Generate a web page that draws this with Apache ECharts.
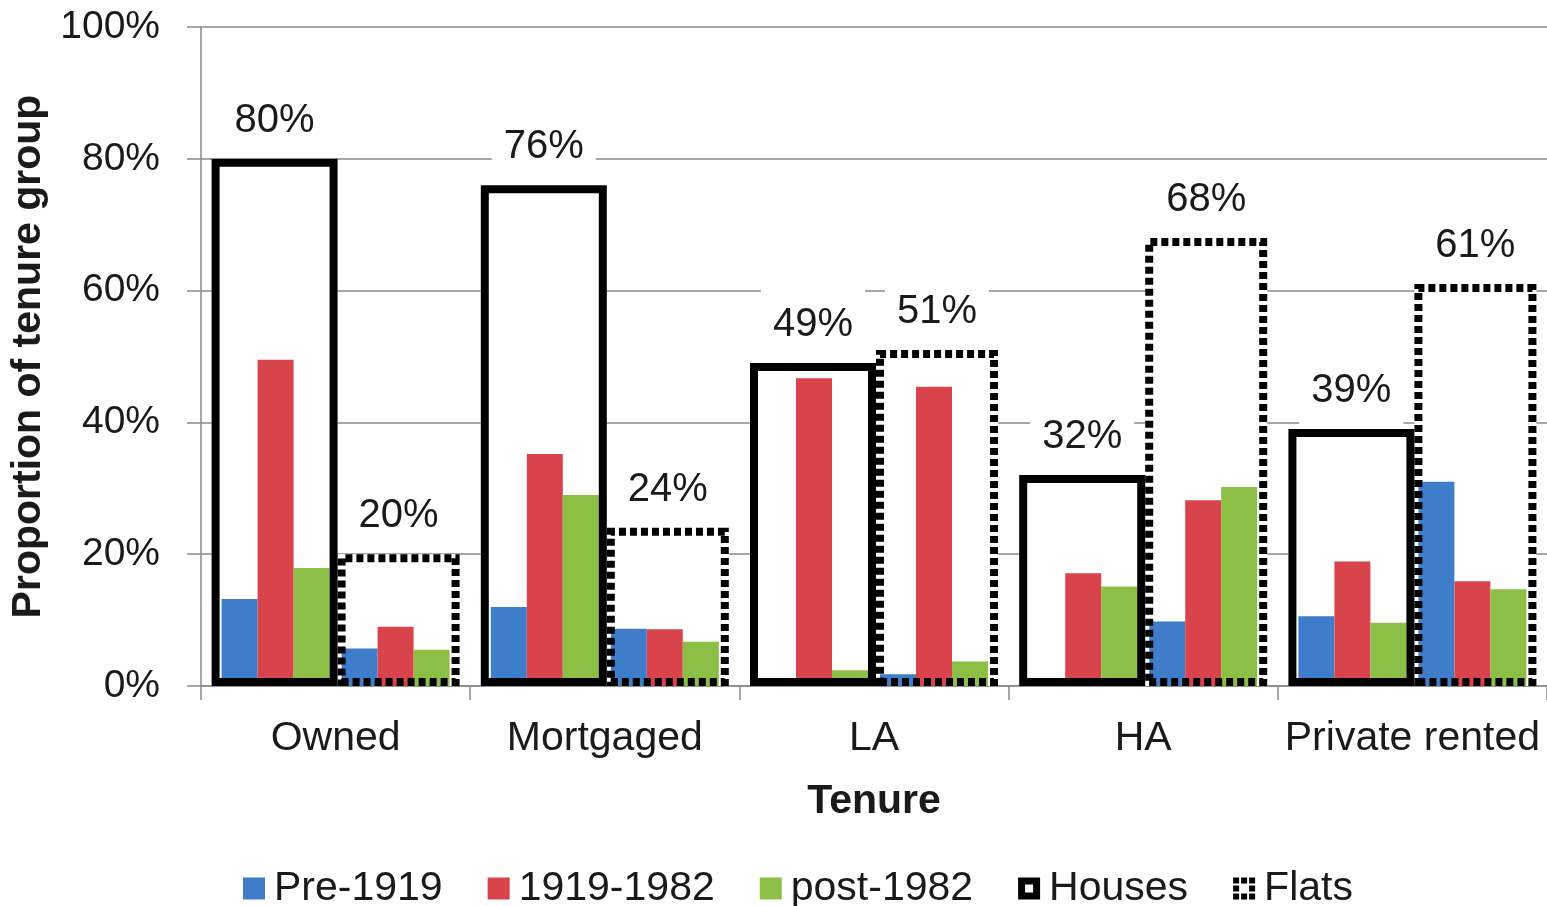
<!DOCTYPE html>
<html><head><meta charset="utf-8">
<script src="https://cdn.jsdelivr.net/npm/echarts@6/dist/echarts.min.js"></script>
<style>html,body{margin:0;padding:0;background:#fff}#c{width:1547px;height:906px}</style>
</head><body><div id="c"></div>
<script>
// ---- data ----
const categories = ['Owned', 'Mortgaged', 'LA', 'HA', 'Private rented'];
const housesTotal = [80, 76, 49, 32, 39];
const flatsTotal = [20, 24, 51, 68, 61];
const housesPre1919 = [13.2, 12.0, 0, 0, 10.6];
const houses1919to1982 = [49.5, 35.2, 46.7, 17.1, 18.9];
const housesPost1982 = [17.9, 29.0, 2.4, 15.1, 9.6];
const flatsPre1919 = [5.7, 8.7, 1.8, 9.8, 31.0];
const flats1919to1982 = [9.0, 8.6, 45.4, 28.2, 15.9];
const flatsPost1982 = [5.5, 6.7, 3.7, 30.2, 14.7];
const yTickValues = [0, 20, 40, 60, 80, 100];
const legendNames = ['Pre-1919', '1919-1982', 'post-1982', 'Houses', 'Flats'];

const FONT = '"Liberation Sans", Arial, sans-serif';
const TXT = '#1a1a1a';
const GRAY = '#8a8a8a';
const BLUE = '#3D7DCA', RED = '#D9434B', GREEN = '#8CBF45';

const housesW = 126, flatsW = 122, innerW = 36, spacerW = 12;

function fillSeries(name, data, w) {
  return { name, type: 'bar', xAxisIndex: 0, data, barWidth: w, barGap: 0,
    itemStyle: { color: '#fff' }, z: 1, silent: true };
}
function borderSeries(name, data, w, dashed) {
  return { name, type: 'bar', xAxisIndex: 2, data, barWidth: w, barGap: 0, z: 3,
    silent: true,
    itemStyle: { color: 'rgba(0,0,0,0)', borderColor: '#000', borderWidth: 8,
      borderType: dashed ? [7, 4] : 'solid' },
    label: { show: true, position: 'top', distance: 4, formatter: '{c}%',
      fontSize: 40, fontFamily: FONT, color: TXT, backgroundColor: '#fff',
      lineHeight: 40, padding: [20, 12, 14, 12] } };
}
function colSeries(name, data, color) {
  return { name, type: 'bar', xAxisIndex: 1, data, barWidth: innerW, barGap: 0, z: 2,
    silent: true, itemStyle: { color } };
}

const series = [
  fillSeries('Houses', housesTotal, housesW),
  fillSeries('Flats', flatsTotal, flatsW),
  colSeries('Pre-1919', housesPre1919, BLUE),
  colSeries('1919-1982', houses1919to1982, RED),
  colSeries('post-1982', housesPost1982, GREEN),
  { name: 'spacer', type: 'bar', xAxisIndex: 1, data: categories.map(() => '-'), barWidth: spacerW,
    barGap: 0, itemStyle: { color: 'rgba(0,0,0,0)' }, silent: true },
  colSeries('Pre-1919', flatsPre1919, BLUE),
  colSeries('1919-1982', flats1919to1982, RED),
  colSeries('post-1982', flatsPost1982, GREEN),
  borderSeries('Houses', housesTotal, housesW, false),
  borderSeries('Flats', flatsTotal, flatsW, true)
];

const housesIcon = 'path://M0,0H22V22H0Z M7,7V15H15V7Z';
const flatsIcon = 'path://M0,0h6v6h-6z M8,0h6v6h-6z M16,0h6v6h-6z M0,16h6v6h-6z M8,16h6v6h-6z M16,16h6v6h-6z M0,8h6v6h-6z M16,8h6v6h-6z';
const legendColors = [BLUE, RED, GREEN, '#000', '#000'];
const legendIcons = ['rect', 'rect', 'rect', housesIcon, flatsIcon];

const hiddenX = { type: 'category', data: categories, show: false };

const option = {
  animation: false,
  textStyle: { fontFamily: FONT },
  grid: { left: 201, right: -5, top: 27, bottom: 220, containLabel: false },
  legend: {
    left: 238, top: 863, itemWidth: 22, itemHeight: 22, itemGap: 45,
    selectedMode: false,
    textStyle: { fontSize: 41, fontFamily: FONT, color: TXT, padding: [0, 0, 0, 4] },
    data: legendNames.map((n, i) => ({ name: n, icon: legendIcons[i],
      itemStyle: { color: legendColors[i], borderWidth: 0, opacity: 1 } }))
  },
  xAxis: [
    { type: 'category', data: categories,
      axisLine: { lineStyle: { color: GRAY, width: 1.5 } },
      axisTick: { show: true, length: 14, lineStyle: { color: GRAY, width: 1.5 } },
      axisLabel: { interval: 0, fontSize: 41, margin: 32, color: TXT, fontFamily: FONT },
      name: 'Tenure', nameLocation: 'middle', nameGap: 95,
      nameTextStyle: { fontSize: 41, fontWeight: 'bold', color: TXT, fontFamily: FONT } },
    hiddenX, hiddenX
  ],
  yAxis: {
    type: 'value', min: yTickValues[0], max: yTickValues[yTickValues.length - 1],
    interval: yTickValues[1] - yTickValues[0],
    axisLine: { show: true, lineStyle: { color: GRAY, width: 1.5 } },
    axisTick: { show: true, length: 14, lineStyle: { color: GRAY, width: 1.5 } },
    axisLabel: { fontSize: 39, margin: 41, color: TXT, fontFamily: FONT, formatter: '{value}%' },
    splitLine: { lineStyle: { color: GRAY, width: 1.5 } },
    name: 'Proportion of tenure group', nameLocation: 'middle', nameGap: 140, nameRotate: 90,
    nameTextStyle: { fontSize: 41, fontWeight: 'bold', color: TXT, fontFamily: FONT }
  },
  series
};

const chart = echarts.init(document.getElementById('c'), null, { renderer: 'canvas' });
chart.setOption(option);
</script>
</body></html>
